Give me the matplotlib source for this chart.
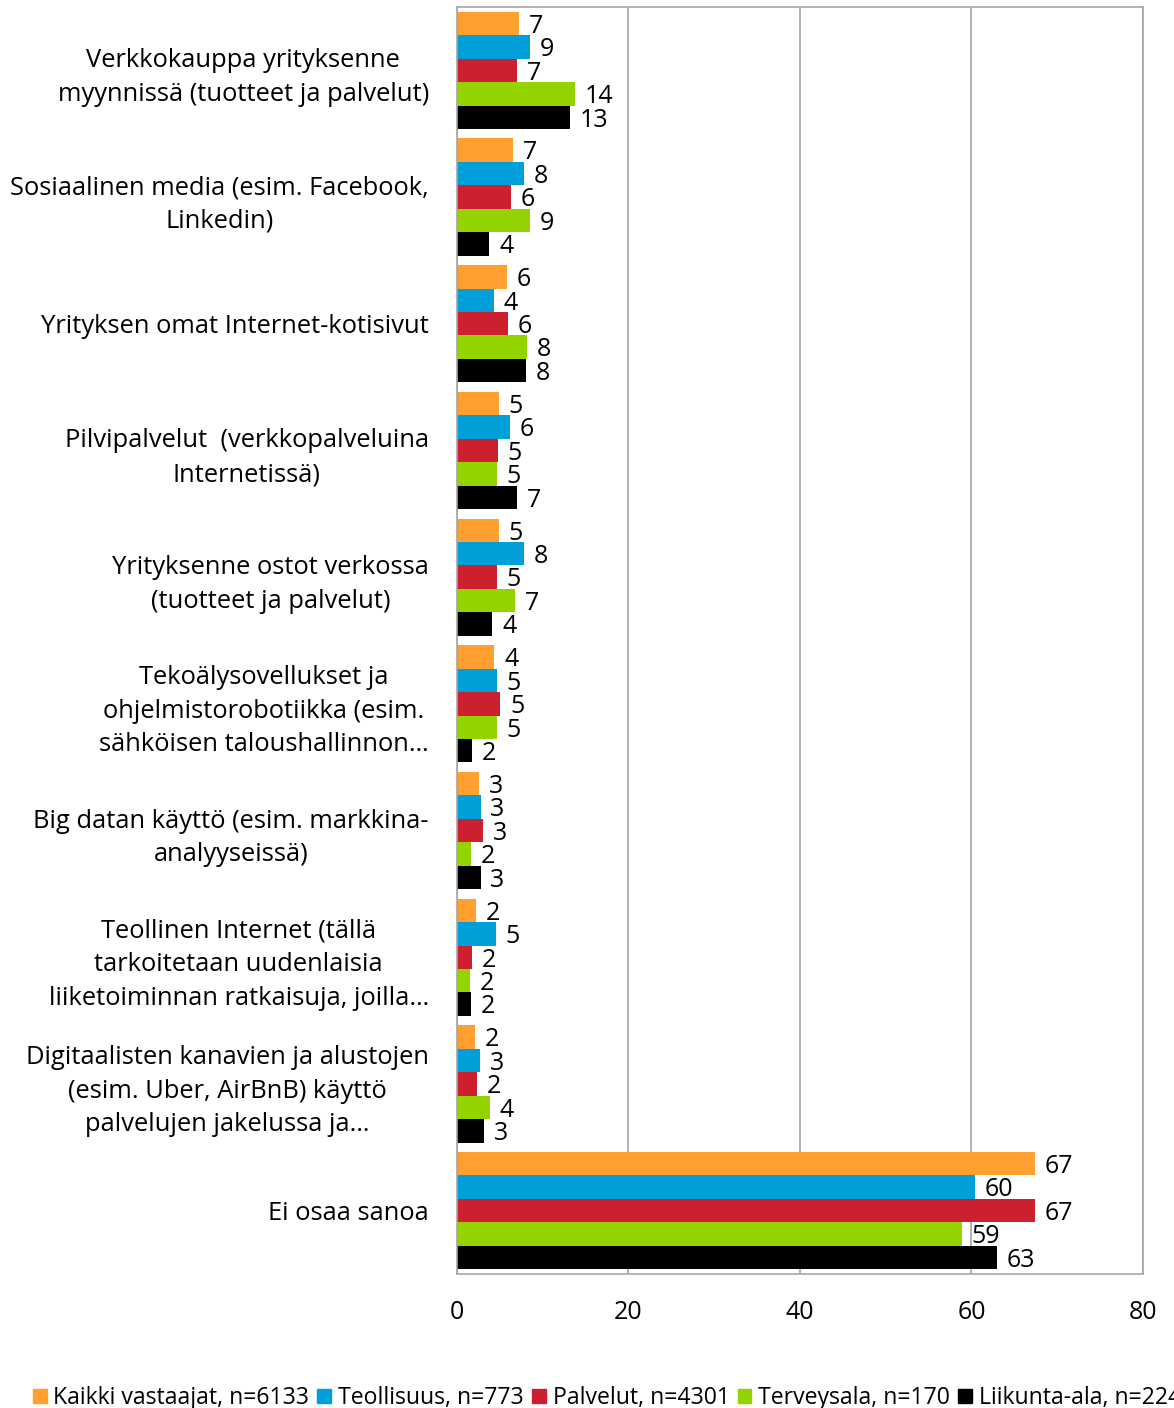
import matplotlib
matplotlib.use("Agg")
import matplotlib.pyplot as plt
from matplotlib.patches import Patch
import numpy as np

plt.rcParams['font.family'] = ['Open Sans', 'DejaVu Sans']

categories = [
    "Verkkokauppa yrityksenne\nmyynnissä (tuotteet ja palvelut)",
    "Sosiaalinen media (esim. Facebook,\nLinkedin)",
    "Yrityksen omat Internet-kotisivut",
    "Pilvipalvelut  (verkkopalveluina\nInternetissä)",
    "Yrityksenne ostot verkossa\n(tuotteet ja palvelut)",
    "Tekoälysovellukset ja\nohjelmistorobotiikka (esim.\nsähköisen taloushallinnon…",
    "Big datan käyttö (esim. markkina-\nanalyyseissä)",
    "Teollinen Internet (tällä\ntarkoitetaan uudenlaisia\nliiketoiminnan ratkaisuja, joilla…",
    "Digitaalisten kanavien ja alustojen\n(esim. Uber, AirBnB) käyttö\npalvelujen jakelussa ja…",
    "Ei osaa sanoa",
]

series_names = [
    "Kaikki vastaajat, n=6133",
    "Teollisuus, n=773",
    "Palvelut, n=4301",
    "Terveysala, n=170",
    "Liikunta-ala, n=224",
]

kaikki = [7.25, 6.6, 5.9, 4.9, 4.9, 4.4, 2.6, 2.25, 2.1, 67.4]
teollisuus = [8.6, 7.8, 4.3, 6.2, 7.8, 4.7, 2.8, 4.6, 2.7, 60.4]
palvelut = [7.05, 6.3, 6.0, 4.8, 4.65, 5.1, 3.1, 1.8, 2.4, 67.4]
terveysala = [13.8, 8.6, 8.2, 4.65, 6.8, 4.65, 1.7, 1.55, 3.9, 58.9]
liikunta = [13.2, 3.8, 8.05, 7.0, 4.15, 1.75, 2.8, 1.65, 3.2, 63.0]

colors = ['#FF9F2F', '#009FD9', '#CD202F', '#92D300', '#000000']

series = [kaikki, teollisuus, palvelut, terveysala, liikunta]

fig = plt.figure(figsize=(11.74, 14.08), dpi=100)
ax = fig.add_axes([0.389, 0.0952, 0.9736 - 0.389, 0.995 - 0.0952])

n = len(categories)
y = np.arange(n)
h = 0.185
for i, (vals, c) in enumerate(zip(series, colors)):
    pos = y - 2 * h + i * h
    bars = ax.barh(pos, vals, height=h, color=c, label=series_names[i])
    for b, v in zip(bars, vals):
        ax.annotate(f"{v:.0f}", (v, b.get_y() + b.get_height() / 2),
                    xytext=(7, -2), textcoords='offset points',
                    ha='left', va='center', fontsize=18, color='#000000')

ax.set_xlim(0, 80)
ax.set_ylim(n - 0.5, -0.5)
ax.set_xticks([0, 20, 40, 60, 80])
ax.set_xticklabels(['0', '20', '40', '60', '80'], fontsize=18)
ax.set_yticks(y)
ax.set_yticklabels(categories, fontsize=18.4, multialignment='center', linespacing=1.45)
ax.tick_params(axis='both', length=0)
ax.tick_params(axis='x', pad=19)
ax.tick_params(axis='y', pad=20)
ax.grid(axis='x', color='#A6A6A6', linewidth=1.2)
ax.set_axisbelow(True)
for s in ax.spines.values():
    s.set_color('#A6A6A6')
    s.set_linewidth(1.2)

handles = [Patch(color=c) for c in colors]
fig.legend(handles, series_names, loc='lower left', bbox_to_anchor=(0.02, -0.008),
           ncol=5, frameon=False, fontsize=16.6, handlelength=0.6, handleheight=0.6,
           handletextpad=0.3, columnspacing=0.35, borderaxespad=0)

fig.savefig('out.png', dpi=100)
